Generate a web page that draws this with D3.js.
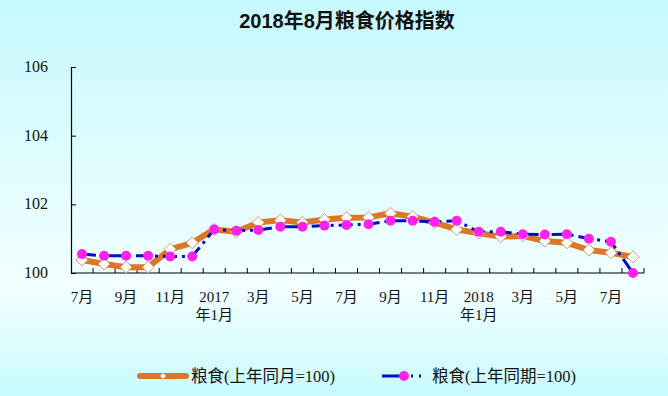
<!DOCTYPE html>
<html>
<head>
<meta charset="utf-8">
<script src="https://cdn.jsdelivr.net/npm/d3@7"></script>
<style>
  body { margin: 0; padding: 0; }
  svg { display: block; }
</style>
</head>
<body>
<script>
// categories: Jul 2016 .. Aug 2018
var months = ["7月", "8月", "9月", "10月", "11月", "12月",
    "2017年1月", "2月", "3月", "4月", "5月", "6月", "7月", "8月", "9月", "10月", "11月", "12月",
    "2018年1月", "2月", "3月", "4月", "5月", "6月", "7月", "8月"];

// 粮食(上年同月=100)
var sameMonth = [100.38, 100.26, 100.17, 100.17, 100.69, 100.88,
    101.27, 101.2, 101.47, 101.54, 101.47, 101.56, 101.61, 101.62, 101.74, 101.64, 101.47, 101.27,
    101.16, 101.06, 101.08, 100.93, 100.88, 100.67, 100.59, 100.47];

// 粮食(上年同期=100)
var samePeriod = [100.55, 100.5, 100.5, 100.5, 100.48, 100.48,
    101.27, 101.23, 101.25, 101.35, 101.35, 101.38, 101.4, 101.42, 101.52, 101.52, 101.49, 101.52,
    101.2, 101.2, 101.13, 101.12, 101.13, 101.0, 100.91, 100.0];

var yTicks = [100, 102, 104, 106];

var W = 668, H = 396;
var plotLeft = 71, plotRight = 644, plotTop = 67, plotBottom = 273;

var svg = d3.select("body").append("svg")
    .attr("width", W)
    .attr("height", H);

// background gradient
var grad = svg.append("defs").append("linearGradient")
    .attr("id", "bg")
    .attr("x1", 0).attr("y1", 0).attr("x2", 0).attr("y2", 1);
grad.append("stop").attr("offset", "0%").attr("stop-color", "#c6f9fe");
grad.append("stop").attr("offset", "72%").attr("stop-color", "#f3ffff");
grad.append("stop").attr("offset", "100%").attr("stop-color", "#c8fcfe");

svg.append("rect")
    .attr("width", W).attr("height", H)
    .attr("fill", "url(#bg)");

// title
svg.append("text")
    .attr("x", 347).attr("y", 28)
    .attr("text-anchor", "middle")
    .attr("font-family", "'Liberation Sans Narrow', 'Liberation Sans', 'Noto Sans CJK SC', sans-serif")
    .attr("font-weight", "bold")
    .attr("font-size", 20)
    .attr("fill", "#111")
    .text("2018年8月粮食价格指数");

// scales
var xScale = d3.scaleBand()
    .domain(d3.range(months.length))
    .range([plotLeft, plotRight]);

var yScale = d3.scaleLinear()
    .domain([100, 106])
    .range([plotBottom, plotTop]);

function cx(i) { return xScale(i) + xScale.bandwidth() / 2; }

var fontFam = "'Liberation Serif', 'Noto Sans CJK SC', serif";

// y axis
var yAxis = d3.axisRight(yScale)
    .tickValues(yTicks)
    .tickSize(5)
    .tickSizeOuter(0)
    .tickFormat("");
var gy = svg.append("g")
    .attr("transform", "translate(" + plotLeft + ",0)")
    .call(yAxis);
gy.select(".domain").attr("stroke", "#000").attr("stroke-width", 1.2);
gy.selectAll(".tick line").attr("stroke", "#000");

svg.selectAll(".ylab").data(yTicks).enter()
    .append("text")
    .attr("class", "ylab")
    .attr("x", 48)
    .attr("y", function (d) { return yScale(d) + 5; })
    .attr("text-anchor", "end")
    .attr("font-family", fontFam)
    .attr("font-size", 16)
    .attr("fill", "#111")
    .text(function (d) { return d; });

// x axis: ticks at category boundaries, pointing up
var boundaries = d3.range(months.length + 1).map(function (i) {
    return plotLeft + i * xScale.step();
});
svg.append("line")
    .attr("x1", plotLeft).attr("x2", plotRight)
    .attr("y1", plotBottom).attr("y2", plotBottom)
    .attr("stroke", "#000").attr("stroke-width", 1.2);
svg.selectAll(".xtick").data(boundaries.slice(1)).enter()
    .append("line")
    .attr("class", "xtick")
    .attr("x1", function (d) { return d; })
    .attr("x2", function (d) { return d; })
    .attr("y1", plotBottom).attr("y2", plotBottom - 5)
    .attr("stroke", "#000");

// x labels every other month
var labelIdx = d3.range(0, months.length, 2);
var xl = svg.selectAll(".xlab").data(labelIdx).enter()
    .append("text")
    .attr("class", "xlab")
    .attr("x", function (i) { return cx(i); })
    .attr("y", 302)
    .attr("text-anchor", "middle")
    .attr("font-family", fontFam)
    .attr("font-size", 15)
    .attr("fill", "#111");
xl.each(function (i) {
    var m = months[i];
    var t = d3.select(this);
    if (m.indexOf("年") > 0) {
        t.append("tspan").attr("x", cx(i)).text(m.slice(0, 4));
        t.append("tspan").attr("x", cx(i)).attr("dy", 18).text(m.slice(4));
    } else {
        t.text(m);
    }
});

// lines
var line = d3.line()
    .x(function (d, i) { return cx(i); })
    .y(function (d) { return yScale(d); });

var orange = "#dc7628";
var blue = "#0010c0";
var magenta = "#ff22ee";

svg.append("path")
    .datum(sameMonth)
    .attr("d", line)
    .attr("fill", "none")
    .attr("stroke", orange)
    .attr("stroke-width", 6)
    .attr("stroke-linejoin", "round");

svg.append("path")
    .datum(samePeriod)
    .attr("d", line)
    .attr("fill", "none")
    .attr("stroke", blue)
    .attr("stroke-width", 3)
    .attr("stroke-dasharray", "14,5,3,5");

// markers
var diamond = d3.symbol().type(d3.symbolSquare).size(72);
svg.selectAll(".dia").data(sameMonth).enter()
    .append("path")
    .attr("class", "dia")
    .attr("d", diamond)
    .attr("transform", function (d, i) {
        return "translate(" + cx(i) + "," + yScale(d) + ") rotate(45)";
    })
    .attr("fill", "#fff")
    .attr("stroke", "#c98a50")
    .attr("stroke-width", 0.8);

svg.selectAll(".dot").data(samePeriod).enter()
    .append("circle")
    .attr("class", "dot")
    .attr("cx", function (d, i) { return cx(i); })
    .attr("cy", function (d) { return yScale(d); })
    .attr("r", 5)
    .attr("fill", magenta);

// legend
var ly = 376;
svg.append("line")
    .attr("x1", 140).attr("x2", 186).attr("y1", ly).attr("y2", ly)
    .attr("stroke", orange).attr("stroke-width", 6).attr("stroke-linecap", "round");
svg.append("path")
    .attr("d", d3.symbol().type(d3.symbolSquare).size(20))
    .attr("transform", "translate(163," + ly + ") rotate(45)")
    .attr("fill", "#fff").attr("stroke", "#c98a50").attr("stroke-width", 0.6);
svg.append("text")
    .attr("x", 191).attr("y", ly + 6)
    .attr("font-family", fontFam).attr("font-size", 16.5).attr("fill", "#111")
    .text("粮食(上年同月=100)");

svg.append("line")
    .attr("x1", 382).attr("x2", 428).attr("y1", ly).attr("y2", ly)
    .attr("stroke", blue).attr("stroke-width", 3)
    .attr("stroke-dasharray", "22,7,2,6,2,20");
svg.append("circle")
    .attr("cx", 404).attr("cy", ly).attr("r", 5).attr("fill", magenta);
svg.append("text")
    .attr("x", 432).attr("y", ly + 6)
    .attr("font-family", fontFam).attr("font-size", 16.5).attr("fill", "#111")
    .text("粮食(上年同期=100)");
</script>
</body>
</html>
